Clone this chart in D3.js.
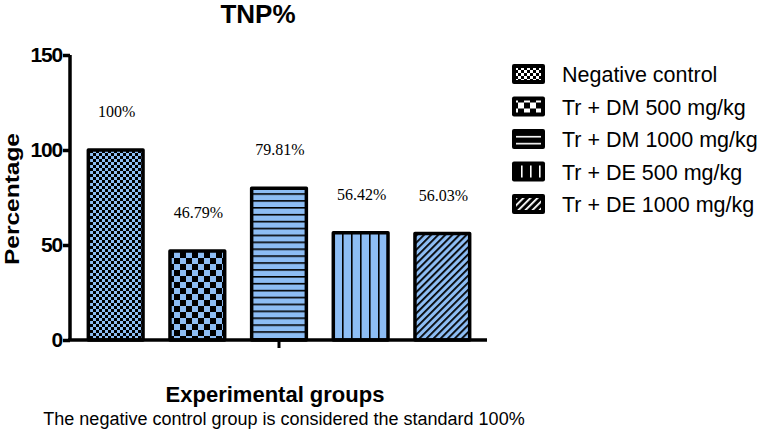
<!DOCTYPE html>
<html>
<head>
<meta charset="utf-8">
<script src="https://cdn.jsdelivr.net/npm/d3@7"></script>
<style>
  body { margin: 0; background: #fff; }
</style>
</head>
<body>
<div id="container"></div>
<script>
/* DATA */
const groups = ["Negative control", "Tr + DM 500 mg/kg", "Tr + DM 1000 mg/kg", "Tr + DE 500 mg/kg", "Tr + DE 1000 mg/kg"];
const values = [100, 46.79, 79.81, 56.42, 56.03];
const valueLabels = ["100%", "46.79%", "79.81%", "56.42%", "56.03%"];
const patternIds = ["fineCheck", "coarseCheck", "hLines", "vLines", "diag"];
const yTicks = [0, 50, 100, 150];

/* CONSTANTS */
const width = 767, height = 431;
const barBlue = "#8dbdf4";
const sans = "Arial, 'Liberation Sans', sans-serif";

const svg = d3.select("#container")
    .append("svg")
    .attr("width", width)
    .attr("height", height)
    .attr("font-family", sans);

const defs = svg.append("defs");

// patterns: fg color on bg color
function makePatterns(suffix, bg, fg) {
    // fine checker
    let p = defs.append("pattern").attr("id", "fineCheck" + suffix)
        .attr("patternUnits", "userSpaceOnUse").attr("width", 6).attr("height", 6);
    p.append("rect").attr("width", 6).attr("height", 6).attr("fill", bg);
    p.append("rect").attr("width", 3).attr("height", 3).attr("fill", fg);
    p.append("rect").attr("x", 3).attr("y", 3).attr("width", 3).attr("height", 3).attr("fill", fg);

    // coarse checker
    p = defs.append("pattern").attr("id", "coarseCheck" + suffix)
        .attr("patternUnits", "userSpaceOnUse").attr("width", 12).attr("height", 12);
    p.append("rect").attr("width", 12).attr("height", 12).attr("fill", bg);
    p.append("rect").attr("width", 6).attr("height", 6).attr("fill", fg);
    p.append("rect").attr("x", 6).attr("y", 6).attr("width", 6).attr("height", 6).attr("fill", fg);

    // horizontal lines
    p = defs.append("pattern").attr("id", "hLines" + suffix)
        .attr("patternUnits", "userSpaceOnUse").attr("width", 8).attr("height", 6.9);
    p.append("rect").attr("width", 8).attr("height", 6.9).attr("fill", bg);
    p.append("rect").attr("y", 0).attr("width", 8).attr("height", 1.6).attr("fill", fg);

    // vertical lines
    p = defs.append("pattern").attr("id", "vLines" + suffix)
        .attr("patternUnits", "userSpaceOnUse").attr("width", 9).attr("height", 8);
    p.append("rect").attr("width", 9).attr("height", 8).attr("fill", bg);
    p.append("rect").attr("x", 0).attr("width", 1.6).attr("height", 8).attr("fill", fg);

    // diagonal lines
    p = defs.append("pattern").attr("id", "diag" + suffix)
        .attr("patternUnits", "userSpaceOnUse").attr("width", 5).attr("height", 5)
        .attr("patternTransform", "rotate(45)");
    p.append("rect").attr("width", 5).attr("height", 5).attr("fill", bg);
    p.append("rect").attr("width", 1.8).attr("height", 5).attr("fill", fg);
}
makePatterns("", barBlue, "#000");
makePatterns("L", "#000", "#fff");

// SCALES
const x = d3.scaleBand()
    .domain(groups)
    .range([72, 486])
    .paddingInner(0.33)
    .paddingOuter(0.2);

const y = d3.scaleLinear()
    .domain([0, 150])
    .range([340, 55]);

// TITLE
svg.append("text")
    .attr("x", 258).attr("y", 23)
    .attr("text-anchor", "middle")
    .attr("font-size", 26).attr("font-weight", "bold")
    .text("TNP%");

// BARS
svg.selectAll("rect.bar")
    .data(values)
    .join("rect")
    .attr("class", "bar")
    .attr("x", (d, i) => x(groups[i]))
    .attr("y", d => y(d))
    .attr("width", x.bandwidth())
    .attr("height", d => y(0) - y(d))
    .attr("fill", (d, i) => `url(#${patternIds[i]})`)
    .attr("stroke", "#000")
    .attr("stroke-width", 3.5)
    .attr("stroke-linejoin", "round");

// VALUE LABELS
svg.selectAll("text.vlabel")
    .data(values)
    .join("text")
    .attr("class", "vlabel")
    .attr("x", (d, i) => x(groups[i]) + x.bandwidth() / 2 + 1)
    .attr("y", d => y(d) - 33)
    .attr("text-anchor", "middle")
    .attr("font-family", "'Liberation Serif', 'DejaVu Serif', serif")
    .attr("font-size", 16)
    .text((d, i) => valueLabels[i]);

// Y AXIS
const yAxis = svg.append("g")
    .attr("transform", "translate(70,0)")
    .call(d3.axisLeft(y).tickValues(yTicks).tickSize(7).tickPadding(1));
yAxis.select(".domain").attr("stroke-width", 3.5).attr("d", "M0,55V340");
yAxis.selectAll(".tick line").attr("stroke-width", 3.5);
yAxis.selectAll(".tick text")
    .attr("font-family", sans)
    .attr("font-size", 21).attr("font-weight", "bold").attr("fill", "#000")
    .attr("letter-spacing", -1.2);

// X AXIS (single centre tick)
const xAxis = svg.append("g")
    .attr("transform", "translate(0,340)");
xAxis.append("line")
    .attr("x1", 68).attr("x2", 487)
    .attr("stroke", "#000").attr("stroke-width", 3.5);
xAxis.append("line")
    .attr("x1", x(groups[2]) + x.bandwidth() / 2).attr("x2", x(groups[2]) + x.bandwidth() / 2)
    .attr("y1", 0).attr("y2", 8)
    .attr("stroke", "#000").attr("stroke-width", 3);

// AXIS TITLES
svg.append("text")
    .attr("transform", "translate(19,199) rotate(-90)")
    .attr("text-anchor", "middle")
    .attr("font-size", 21).attr("font-weight", "bold")
    .attr("textLength", 132).attr("lengthAdjust", "spacingAndGlyphs")
    .text("Percentage");

svg.append("text")
    .attr("x", 275).attr("y", 402)
    .attr("text-anchor", "middle")
    .attr("font-size", 22).attr("font-weight", "bold")
    .text("Experimental groups");

svg.append("text")
    .attr("x", 284).attr("y", 425)
    .attr("text-anchor", "middle")
    .attr("font-size", 18)
    .text("The negative control group is considered the standard 100%");

// LEGEND
const legend = svg.selectAll("g.legend")
    .data(groups)
    .join("g")
    .attr("class", "legend")
    .attr("transform", (d, i) => `translate(512,${64 + i * 32.5})`);

legend.append("rect")
    .attr("width", 33).attr("height", 20).attr("rx", 2)
    .attr("fill", "#000");
legend.append("rect")
    .attr("x", 4).attr("y", 4).attr("width", 25).attr("height", 12)
    .attr("fill", (d, i) => `url(#${patternIds[i]}L)`);
legend.append("text")
    .attr("x", 50).attr("y", 18)
    .attr("font-size", 21.5)
    .text(d => d);
</script>
</body>
</html>
